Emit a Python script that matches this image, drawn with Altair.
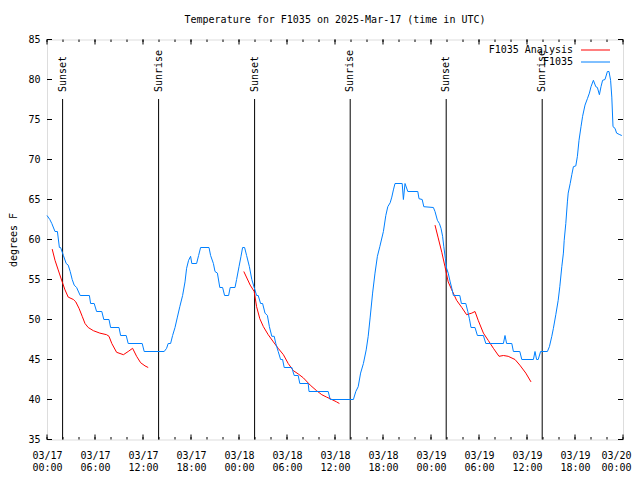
import json
import altair as alt
import pandas as pd

FONT = "DejaVu Sans Mono"
TITLE = "Temperature for F1035 on 2025-Mar-17 (time in UTC)"
Y_TITLE = "degrees F"

# Observations (hours since 03/17 00:00 UTC, degrees F)
obs_hours = [0.0, 0.35, 0.6, 1.0, 1.3, 1.55, 1.7, 2.05, 2.4, 2.65, 2.9, 3.15, 3.4, 3.7, 4.15,
             5.3, 5.45, 5.9, 6.2, 6.85, 7.1, 7.75, 7.95, 9.0, 9.2, 9.9, 10.15, 11.9, 12.15,
             14.65, 14.95, 15.15, 15.45, 15.7, 16.0, 16.3, 16.6, 16.95, 17.25, 17.45, 17.7,
             17.95, 18.1, 18.7, 18.95, 19.2, 20.25, 20.45, 20.8, 21.0, 21.3, 21.6, 21.95,
             22.2, 22.7, 22.9, 23.5, 23.7, 24.0, 24.25, 24.45, 24.7, 24.95, 25.3, 25.6, 25.9,
             26.2, 26.4, 26.7, 26.95, 27.25, 27.55, 27.8, 28.1, 28.4, 28.6, 28.9, 29.2, 29.45,
             29.65, 30.6, 30.9, 31.4, 31.6, 32.65, 32.75, 35.15, 35.4, 38.3, 38.6, 38.9, 39.2,
             39.55, 39.9, 40.15, 40.4, 40.7, 41.0, 41.3, 41.6, 42.05, 42.35, 42.6, 42.9, 43.1,
             43.3, 43.5, 44.4, 44.55, 44.75, 45.1, 46.35, 46.5, 46.9, 47.1, 48.3, 48.5, 48.8,
             49.05, 49.25, 49.45, 49.6, 49.8, 49.95, 50.15, 50.4, 50.6, 50.8, 51.6, 51.8,
             52.35, 52.6, 52.8, 53.0, 53.5, 53.8, 54.55, 54.85, 57.05, 57.25, 57.45, 58.1,
             58.3, 59.1, 59.35, 60.8, 61.0, 61.2, 61.4, 61.7, 62.55, 62.8, 63.1, 63.3, 63.6,
             63.9, 64.1, 64.35, 64.55, 64.65, 64.85, 65.05, 65.15, 65.4, 65.6, 65.8, 66.1,
             66.3, 66.5, 66.75, 66.95, 67.25, 67.55, 67.8, 68.0, 68.3, 68.6, 68.8, 69.05,
             69.25, 69.45, 69.75, 70.05, 70.25, 70.45, 70.6, 70.75, 71.0, 71.2, 71.6, 71.85]
obs_temps = [63, 62.5, 62, 61, 61, 59, 59, 58, 57, 56.8, 56, 55, 54.3, 54, 53,
             53, 52, 52, 51, 51, 50, 50, 49, 49, 48, 48, 47, 47, 46,
             46, 46.4, 47, 47, 48, 49, 50.3, 51.6, 53, 54.7, 56.4, 57.4,
             57.9, 57, 57, 58, 59, 59, 58, 57, 56, 55.8, 54, 54,
             53, 53, 54, 54, 55, 56.6, 57.9, 59, 59, 58, 56.6, 55, 54,
             53, 53, 52, 52, 50.8, 50.5, 49.1, 47.9, 47.9, 47, 46, 45, 45,
             44, 44, 43, 43, 42, 42, 41, 41, 40, 40, 41, 41.6, 43.3,
             44.5, 46.2, 47.9, 50.3, 53.3, 55.8, 57.9, 59.1, 61, 63, 64.1, 64.6, 65.3,
             66.2, 67, 67, 65, 67, 66, 66, 65.1, 65, 64.1, 64, 63.5, 62.4,
             62, 61.4, 60.4, 59.1, 57.6, 56.4, 55.8, 54.7, 53.9, 53, 53, 52,
             52, 51, 50.1, 49, 49, 48, 48, 47, 47, 48, 47, 47,
             46, 46, 45, 45, 46, 45, 45, 46, 46, 46.6, 47.9, 48.9, 50.6,
             52.4, 54.1, 56.6, 58.3, 59.9, 62, 64.7, 65.8, 67, 68.1, 69.1, 69.2,
             70.4, 72.4, 74.1, 75.4, 76.8, 77.6, 78.3, 79.1, 79.9, 79.1, 79, 78.1,
             79.1, 79.9, 80, 81, 81, 79.9, 77.8, 74.1, 73.9, 73.3, 73.1, 73]

# Analysis (three separate runs)
ana1_hours = [0.65, 1.0, 1.4, 1.9, 2.25, 2.65, 3.3, 3.6, 4.0, 4.4, 4.75, 5.15, 5.8, 6.6,
              7.45, 7.75, 8.1, 8.7, 9.55, 10.15, 10.7, 11.2, 11.7, 12.25, 12.65]
ana1_temps = [58.8, 57.4, 56.2, 54.7, 53.7, 52.8, 52.5, 52.2, 51.4, 50.4, 49.5, 49, 48.6, 48.3,
              48.1, 47.9, 47, 45.9, 45.6, 46, 46.4, 45.4, 44.6, 44.2, 44]
ana2_hours = [24.6, 25.4, 25.9, 26.2, 26.6, 27.05, 27.65, 28.3, 28.9, 29.55, 30.15, 30.8,
              31.4, 32.05, 32.9, 33.7, 34.35, 34.95, 35.6, 36.2, 36.55]
ana2_temps = [56, 54.3, 53.5, 51.6, 50.1, 49.1, 48.1, 47.2, 46.4, 45.6, 44.5, 43.6,
              43.2, 42.7, 41.8, 41.1, 40.6, 40.3, 40, 39.7, 39.5]
ana3_hours = [48.5, 48.9, 49.35, 49.75, 50.15, 50.6, 51.2, 51.85, 52.45, 53.1, 53.5, 53.9,
              54.55, 55.15, 55.8, 56.5, 57.05, 57.65, 58.5, 59.1, 59.85, 60.5]
ana3_temps = [61.8, 60.2, 58.4, 56.6, 54.7, 53.7, 52.4, 51.5, 50.6, 50.8, 51, 49.9,
              48.3, 47.4, 46.4, 45.4, 45.5, 45.4, 45, 44.3, 43.3, 42.2]

event_hours = [1.95, 13.95, 25.95, 37.9, 49.9, 61.9]
event_labels = ["Sunset", "Sunrise", "Sunset", "Sunrise", "Sunset", "Sunrise"]

x_tick_values = list(range(0, 73, 6))
x_tick_labels = [["03/17", "00:00"], ["03/17", "06:00"], ["03/17", "12:00"], ["03/17", "18:00"],
                 ["03/18", "00:00"], ["03/18", "06:00"], ["03/18", "12:00"], ["03/18", "18:00"],
                 ["03/19", "00:00"], ["03/19", "06:00"], ["03/19", "12:00"], ["03/19", "18:00"],
                 ["03/20", "00:00"]]
x_minor_values = list(range(0, 73, 2))
y_tick_values = list(range(35, 86, 5))

legend_labels = ["F1035 Analysis", "F1035"]
legend_colors = ["#ff0000", "#0080ff"]

W, H = 576, 400

xs = alt.Scale(domain=[0, 72], nice=False, zero=False)
ys = alt.Scale(domain=[35, 85], nice=False, zero=False)

x_axis = alt.Axis(values=x_tick_values,
                  labelExpr=json.dumps(x_tick_labels) + "[round(datum.value / 6)]",
                  labelPadding=10.5, ticks=False, domain=False, grid=False,
                  labelFont=FONT, labelFontSize=10, labelColor="black",
                  labelLineHeight=12, labelAlign="center", labelBaseline="top",
                  labelOffset={"condition": {"test": "datum.value >= 72", "value": -7},
                               "value": 0},
                  labelFlush=False, labelOverlap=False, title=None)
y_axis = alt.Axis(values=y_tick_values, format="d", labelPadding=7, ticks=False,
                  domain=False, grid=False, labelFont=FONT, labelFontSize=10,
                  labelColor="black", labelFlush=False, labelOverlap=False,
                  title=Y_TITLE, titleFont=FONT, titleFontSize=10, titleFontWeight="normal",
                  titleColor="black", titleX=-34, titleY=200, titleAngle=270,
                  titleAlign="center", titleBaseline="middle")


def X(field="h"):
    return alt.X(field, type="quantitative", scale=xs, axis=x_axis)


def Y(field="t"):
    return alt.Y(field, type="quantitative", scale=ys, axis=y_axis)


obs_df = pd.DataFrame({"h": obs_hours, "t": obs_temps})
ana_df = pd.concat([
    pd.DataFrame({"h": ana1_hours, "t": ana1_temps, "run": 1}),
    pd.DataFrame({"h": ana2_hours, "t": ana2_temps, "run": 2}),
    pd.DataFrame({"h": ana3_hours, "t": ana3_temps, "run": 3}),
])
ev_df = pd.DataFrame({"h": event_hours, "label": event_labels})
xt_df = pd.DataFrame({"h": x_tick_values})
xm_df = pd.DataFrame({"h": x_minor_values})
yt_df = pd.DataFrame({"t": y_tick_values})

layers = []

# tick marks (inward, mirrored)
layers.append(alt.Chart(yt_df).mark_rule(color="black", strokeWidth=1).encode(
    y=Y(), x=alt.value(0), x2=alt.value(5)))
layers.append(alt.Chart(yt_df).mark_rule(color="black", strokeWidth=1).encode(
    y=Y(), x=alt.value(W - 5), x2=alt.value(W)))
layers.append(alt.Chart(xt_df).mark_rule(color="black", strokeWidth=1).encode(
    x=X(), y=alt.value(H - 5), y2=alt.value(H)))
layers.append(alt.Chart(xt_df).mark_rule(color="black", strokeWidth=1).encode(
    x=X(), y=alt.value(0), y2=alt.value(5)))
layers.append(alt.Chart(xm_df).mark_rule(color="black", strokeWidth=1).encode(
    x=X(), y=alt.value(H - 2.5), y2=alt.value(H)))
layers.append(alt.Chart(xm_df).mark_rule(color="black", strokeWidth=1).encode(
    x=X(), y=alt.value(0), y2=alt.value(2.5)))

# sunrise / sunset markers
layers.append(alt.Chart(ev_df).mark_rule(color="black", strokeWidth=1).encode(
    x=X(), y=alt.value(59.5), y2=alt.value(H)))
layers.append(alt.Chart(ev_df).mark_text(angle=270, align="left", baseline="middle",
                                         font=FONT, fontSize=10, color="black").encode(
    x=X(), y=alt.value(52.5), text="label:N"))

# data lines
layers.append(alt.Chart(ana_df).mark_line(color=legend_colors[0], strokeWidth=1).encode(
    x=X(), y=Y(), detail="run:N"))
layers.append(alt.Chart(obs_df).mark_line(color=legend_colors[1], strokeWidth=1).encode(
    x=X(), y=Y()))

# key
for i, (lab, col) in enumerate(zip(legend_labels, legend_colors)):
    ldf = pd.DataFrame({"label": [lab]})
    yy = 10.5 + 12 * i
    layers.append(alt.Chart(ldf).mark_text(align="right", baseline="middle", font=FONT,
                                           fontSize=10, color="black").encode(
        x=alt.value(526), y=alt.value(yy), text="label:N"))
    layers.append(alt.Chart(ldf).mark_rule(color=col, strokeWidth=1).encode(
        x=alt.value(534), x2=alt.value(563), y=alt.value(yy)))

chart = alt.layer(*layers).properties(
    width=W, height=H,
    title=alt.TitleParams(TITLE, font=FONT, fontSize=10, fontWeight="normal",
                          color="black", anchor="middle", offset=10),
    autosize=alt.AutoSizeParams(type="none"),
    padding={"left": 39, "top": 31.5, "right": 9, "bottom": 32},
).configure_view(stroke="black", strokeWidth=1).configure(background="white")

chart.save("out.html", embed_options={"renderer": "svg", "actions": False})
